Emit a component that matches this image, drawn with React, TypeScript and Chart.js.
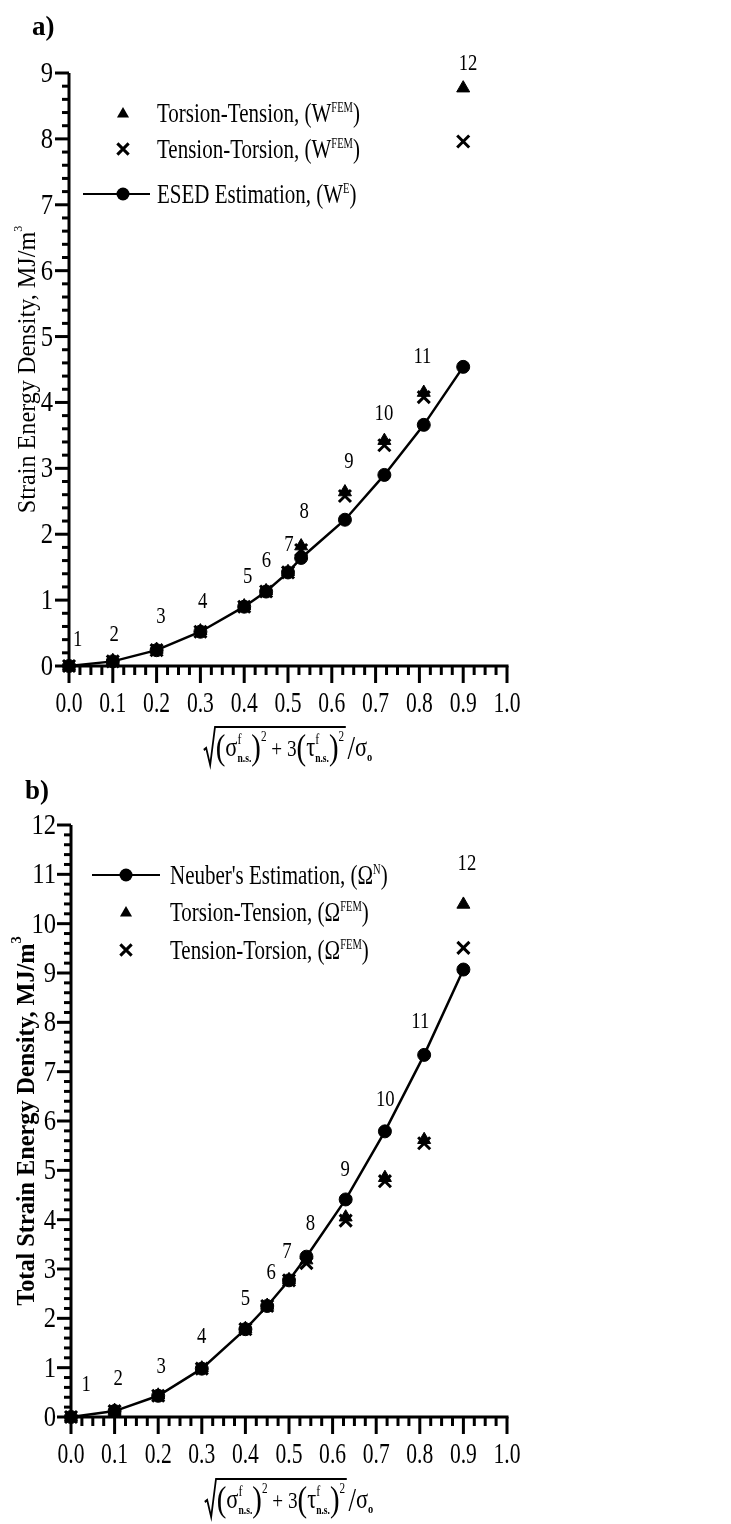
import React, { useEffect, useRef } from 'react';
import { Chart, registerables } from 'chart.js';

Chart.register(...registerables);

const FONT = "'Liberation Serif', 'Times New Roman', Times, serif";

// ---------------- shared axis data ----------------
const xTickLabels = ['0.0', '0.1', '0.2', '0.3', '0.4', '0.5', '0.6', '0.7', '0.8', '0.9', '1.0'];
const pointNumbers = ['1', '2', '3', '4', '5', '6', '7', '8', '9', '10', '11', '12'];

// ---------------- panel a) ----------------
const yTickLabelsA = ['0', '1', '2', '3', '4', '5', '6', '7', '8', '9'];
const xValuesA = [0, 0.1, 0.2, 0.3, 0.4, 0.45, 0.5, 0.53, 0.63, 0.72, 0.81, 0.9];
const esedA = [0, 0.07, 0.24, 0.52, 0.9, 1.13, 1.42, 1.64, 2.22, 2.9, 3.66, 4.54];
const torsionTensionA = [0, 0.08, 0.25, 0.53, 0.91, 1.14, 1.43, 1.82, 2.64, 3.42, 4.15, 8.77];
const tensionTorsionA = [0, 0.07, 0.24, 0.52, 0.9, 1.13, 1.42, 1.76, 2.58, 3.35, 4.08, 7.96];
// where the point numbers sit (data units)
const labelXA = [0.02, 0.103, 0.21, 0.305, 0.408, 0.451, 0.502, 0.537, 0.639, 0.719, 0.807, 0.911];
const labelYA = [0.42, 0.5, 0.77, 1.0, 1.38, 1.62, 1.87, 2.37, 3.13, 3.86, 4.72, 9.17];

// ---------------- panel b) ----------------
const yTickLabelsB = ['0', '1', '2', '3', '4', '5', '6', '7', '8', '9', '10', '11', '12'];
const xValuesB = [0, 0.1, 0.2, 0.3, 0.4, 0.45, 0.5, 0.54, 0.63, 0.72, 0.81, 0.9];
const neuberB = [0, 0.12, 0.43, 0.98, 1.78, 2.25, 2.77, 3.25, 4.41, 5.79, 7.34, 9.07];
const torsionTensionB = [0, 0.13, 0.44, 0.99, 1.79, 2.26, 2.78, 3.18, 4.05, 4.85, 5.62, 10.39];
const tensionTorsionB = [0, 0.12, 0.43, 0.98, 1.78, 2.25, 2.77, 3.12, 3.98, 4.78, 5.55, 9.51];
const labelXB = [0.035, 0.108, 0.207, 0.3, 0.4, 0.459, 0.495, 0.549, 0.629, 0.721, 0.801, 0.908];
const labelYB = [0.69, 0.81, 1.05, 1.66, 2.43, 2.95, 3.39, 3.96, 5.05, 6.47, 8.05, 11.26];

// ---------------- text helpers ----------------
type Run = { t: string; size: number; bold?: boolean; dy?: number; below?: Run };

const fnt = (size: number, bold?: boolean) => `${bold ? 'bold ' : ''}${size}px ${FONT}`;

function runAdvance(ctx: CanvasRenderingContext2D, r: Run) {
  ctx.font = fnt(r.size, r.bold);
  let w = ctx.measureText(r.t).width;
  if (r.below) {
    ctx.font = fnt(r.below.size, r.below.bold);
    w = Math.max(w, ctx.measureText(r.below.t).width);
  }
  return w;
}
function runsWidth(ctx: CanvasRenderingContext2D, runs: Run[]) {
  return runs.reduce((s, r) => s + runAdvance(ctx, r), 0);
}
function paintRuns(ctx: CanvasRenderingContext2D, runs: Run[], startX: number) {
  let cx = startX;
  for (const r of runs) {
    const adv = runAdvance(ctx, r);
    ctx.font = fnt(r.size, r.bold);
    ctx.fillText(r.t, cx, r.dy || 0);
    if (r.below) {
      ctx.font = fnt(r.below.size, r.below.bold);
      ctx.fillText(r.below.t, cx, r.below.dy || 0);
    }
    cx += adv;
  }
  return cx;
}
function drawRuns(
  ctx: CanvasRenderingContext2D,
  runs: Run[],
  x: number,
  y: number,
  sx: number,
  align: 'left' | 'center' | 'right',
  rotate = 0
) {
  ctx.save();
  ctx.translate(x, y);
  if (rotate) ctx.rotate(rotate);
  ctx.scale(sx, 1);
  ctx.textAlign = 'left';
  ctx.textBaseline = 'alphabetic';
  ctx.fillStyle = '#000';
  const total = runsWidth(ctx, runs);
  const start = align === 'left' ? 0 : align === 'center' ? -total / 2 : -total;
  paintRuns(ctx, runs, start);
  ctx.restore();
}

function drawFormula(ctx: CanvasRenderingContext2D, cx: number, baseline: number) {
  const sx = 0.8;
  const stack = (): Run => ({ t: 'f', size: 15, dy: -12, below: { t: 'n.s.', size: 12, bold: true, dy: 6 } });
  const inner: Run[] = [
    { t: '(', size: 36, dy: 3 },
    { t: 'σ', size: 28 },
    stack(),
    { t: ')', size: 36, dy: 3 },
    { t: '2', size: 14, dy: -15 },
    { t: ' + 3', size: 24 },
    { t: '(', size: 36, dy: 3 },
    { t: 'τ', size: 28 },
    stack(),
    { t: ')', size: 36, dy: 3 },
    { t: '2', size: 14, dy: -15 },
  ];
  const tail: Run[] = [
    { t: '/', size: 34, dy: 3 },
    { t: 'σ', size: 28 },
    { t: 'o', size: 13, bold: true, dy: 5 },
  ];
  ctx.save();
  ctx.translate(cx, baseline);
  ctx.scale(sx, 1);
  ctx.fillStyle = '#000';
  ctx.strokeStyle = '#000';
  ctx.textAlign = 'left';
  ctx.textBaseline = 'alphabetic';
  const radW = 15;
  const innerW = runsWidth(ctx, inner);
  const tailW = runsWidth(ctx, tail);
  const total = radW + innerW + 4 + tailW;
  const x0 = -total / 2;
  // radical sign and vinculum
  ctx.lineWidth = 2.2;
  ctx.beginPath();
  ctx.moveTo(x0, -6);
  ctx.lineTo(x0 + 3, -8);
  ctx.lineTo(x0 + 8, 9);
  ctx.lineTo(x0 + 14, -29);
  ctx.lineTo(x0 + radW + innerW + 2, -29);
  ctx.stroke();
  paintRuns(ctx, inner, x0 + radW);
  paintRuns(ctx, tail, x0 + radW + innerW + 4);
  ctx.restore();
}

// ---------------- marker helpers (legend) ----------------
function drawTriangle(ctx: CanvasRenderingContext2D, x: number, y: number, r: number) {
  ctx.beginPath();
  for (let i = 0; i < 3; i++) {
    const a = (i * 2 * Math.PI) / 3;
    const px = x + Math.sin(a) * r;
    const py = y - Math.cos(a) * r;
    if (i === 0) ctx.moveTo(px, py);
    else ctx.lineTo(px, py);
  }
  ctx.closePath();
  ctx.fill();
}
function drawCross(ctx: CanvasRenderingContext2D, x: number, y: number, r: number) {
  const d = r * Math.SQRT1_2;
  ctx.lineWidth = 3;
  ctx.beginPath();
  ctx.moveTo(x - d, y - d);
  ctx.lineTo(x + d, y + d);
  ctx.moveTo(x + d, y - d);
  ctx.lineTo(x - d, y + d);
  ctx.stroke();
}
function drawLineCircle(ctx: CanvasRenderingContext2D, x1: number, x2: number, cx: number, y: number, r: number) {
  ctx.lineWidth = 2;
  ctx.beginPath();
  ctx.moveTo(x1, y);
  ctx.lineTo(x2, y);
  ctx.stroke();
  ctx.beginPath();
  ctx.arc(cx, y, r, 0, Math.PI * 2);
  ctx.fill();
}

// ---------------- panel description ----------------
type LegendItem = { kind: 'tri' | 'cross' | 'line'; y: number; runs: Run[] };
type Panel = {
  tag: string;
  tagX: number;
  tagY: number;
  canvasH: number;
  yMax: number;
  yAxisW: number;
  padTop: number;
  padBottom: number;
  yTickLabels: string[];
  yTickRight: number;
  xValues: number[];
  main: number[];
  mainLabel: string;
  tt: number[];
  tTor: number[];
  labelX: number[];
  labelY: number[];
  yTitle: Run[];
  yTitleX: number;
  yTitleSx: number;
  legend: LegendItem[];
  legendMarkerX: number;
  legendLine: [number, number];
  legendTextX: number;
  formulaY: number;
};

const sup = (t: string): Run => ({ t, size: 14, dy: -10 });

const panelA: Panel = {
  tag: 'a)',
  tagX: 32,
  tagY: 35,
  canvasH: 780,
  yMax: 9,
  yAxisW: 69,
  padTop: 73,
  padBottom: 780 - 666 - 64,
  yTickLabels: yTickLabelsA,
  yTickRight: 53,
  xValues: xValuesA,
  main: esedA,
  mainLabel: 'ESED Estimation',
  tt: torsionTensionA,
  tTor: tensionTorsionA,
  labelX: labelXA,
  labelY: labelYA,
  yTitle: [{ t: 'Strain Energy Density, MJ/m', size: 26 }, { t: '3', size: 13, dy: -13 }],
  yTitleX: 35,
  yTitleSx: 0.93,
  legend: [
    { kind: 'tri', y: 113, runs: [{ t: 'Torsion-Tension, (W', size: 28 }, sup('FEM'), { t: ')', size: 28 }] },
    { kind: 'cross', y: 149, runs: [{ t: 'Tension-Torsion, (W', size: 28 }, sup('FEM'), { t: ')', size: 28 }] },
    { kind: 'line', y: 194, runs: [{ t: 'ESED Estimation, (W', size: 28 }, sup('E'), { t: ')', size: 28 }] },
  ],
  legendMarkerX: 123,
  legendLine: [83, 150],
  legendTextX: 157,
  formulaY: 756,
};

const panelB: Panel = {
  tag: 'b)',
  tagX: 25,
  tagY: 19,
  canvasH: 744,
  yMax: 12,
  yAxisW: 71,
  padTop: 45,
  padBottom: 744 - 637 - 64,
  yTickLabels: yTickLabelsB,
  yTickRight: 56,
  xValues: xValuesB,
  main: neuberB,
  mainLabel: "Neuber's Estimation",
  tt: torsionTensionB,
  tTor: tensionTorsionB,
  labelX: labelXB,
  labelY: labelYB,
  yTitle: [{ t: 'Total Strain Energy Density, MJ/m', size: 25, bold: true }, { t: '3', size: 15, bold: true, dy: -13 }],
  yTitleX: 34,
  yTitleSx: 0.97,
  legend: [
    { kind: 'line', y: 95, runs: [{ t: "Neuber's Estimation, (Ω", size: 28 }, sup('N'), { t: ')', size: 28 }] },
    { kind: 'tri', y: 132, runs: [{ t: 'Torsion-Tension, (Ω', size: 28 }, sup('FEM'), { t: ')', size: 28 }] },
    { kind: 'cross', y: 170, runs: [{ t: 'Tension-Torsion, (Ω', size: 28 }, sup('FEM'), { t: ')', size: 28 }] },
  ],
  legendMarkerX: 126,
  legendLine: [92, 160],
  legendTextX: 170,
  formulaY: 728,
};

const near = (v: number, step: number) => Math.abs(v / step - Math.round(v / step)) < 1e-6;

function makeChart(canvas: HTMLCanvasElement, p: Panel) {
  const pts = (ys: number[]) => p.xValues.map((x, i) => ({ x, y: ys[i] }));

  const axesPlugin = {
    id: 'axesPlugin',
    beforeDatasetsDraw(chart: any) {
      const ctx: CanvasRenderingContext2D = chart.ctx;
      const { left, right, top, bottom } = chart.chartArea;
      const xs = chart.scales.x;
      const ys = chart.scales.y;
      ctx.save();
      ctx.strokeStyle = '#000';
      ctx.lineWidth = 3;
      ctx.lineCap = 'butt';
      ctx.beginPath();
      ctx.moveTo(left, top);
      ctx.lineTo(left, bottom + 1.5);
      ctx.moveTo(left - 1.5, bottom);
      ctx.lineTo(right + 1.5, bottom);
      ctx.stroke();
      for (const t of xs.ticks) {
        const major = near(t.value, 0.1);
        const px = xs.getPixelForValue(t.value);
        ctx.beginPath();
        ctx.moveTo(px, bottom);
        ctx.lineTo(px, bottom + (major ? 17 : 9));
        ctx.stroke();
      }
      for (const t of ys.ticks) {
        const major = near(t.value, 1);
        const py = ys.getPixelForValue(t.value);
        ctx.beginPath();
        ctx.moveTo(left, py);
        ctx.lineTo(left - (major ? 14 : 7), py);
        ctx.stroke();
      }
      ctx.restore();
    },
    afterDraw(chart: any) {
      const ctx: CanvasRenderingContext2D = chart.ctx;
      const { top, bottom } = chart.chartArea;
      const xs = chart.scales.x;
      const ys = chart.scales.y;
      ctx.save();
      ctx.fillStyle = '#000';
      ctx.strokeStyle = '#000';
      // tick labels
      for (const t of xs.ticks) {
        if (!near(t.value, 0.1)) continue;
        const lbl = xTickLabels[Math.round(t.value * 10)];
        drawRuns(ctx, [{ t: lbl, size: 30 }], xs.getPixelForValue(t.value), bottom + 46, 0.72, 'center');
      }
      for (const t of ys.ticks) {
        if (!near(t.value, 1)) continue;
        const lbl = p.yTickLabels[Math.round(t.value)];
        drawRuns(ctx, [{ t: lbl, size: 30 }], p.yTickRight, ys.getPixelForValue(t.value) + 9, 0.82, 'right');
      }
      // y title
      drawRuns(ctx, p.yTitle, p.yTitleX, (top + bottom) / 2, p.yTitleSx, 'center', -Math.PI / 2);
      // panel tag
      drawRuns(ctx, [{ t: p.tag, size: 27, bold: true }], p.tagX, p.tagY, 1, 'left');
      // point numbers
      p.labelX.forEach((lx, i) => {
        drawRuns(ctx, [{ t: pointNumbers[i], size: 24 }], xs.getPixelForValue(lx), ys.getPixelForValue(p.labelY[i]) + 8, 0.78, 'center');
      });
      // legend
      for (const item of p.legend) {
        if (item.kind === 'tri') drawTriangle(ctx, p.legendMarkerX, item.y + 1, 7);
        else if (item.kind === 'cross') drawCross(ctx, p.legendMarkerX, item.y, 8);
        else drawLineCircle(ctx, p.legendLine[0], p.legendLine[1], p.legendMarkerX, item.y, 6.5);
        drawRuns(ctx, item.runs, p.legendTextX, item.y + 9, 0.75, 'left');
      }
      // x title
      drawFormula(ctx, (chart.chartArea.left + chart.chartArea.right) / 2, p.formulaY);
      ctx.restore();
    },
  };

  return new Chart(canvas, {
    type: 'scatter',
    data: {
      datasets: [
        {
          label: p.mainLabel,
          data: pts(p.main),
          showLine: true,
          borderColor: '#000',
          borderWidth: 2.5,
          tension: 0,
          pointStyle: 'circle',
          pointRadius: 6.5,
          pointBackgroundColor: '#000',
          pointBorderColor: '#000',
          pointBorderWidth: 1,
          clip: false,
        },
        {
          label: 'Torsion-Tension',
          data: pts(p.tt),
          showLine: false,
          pointStyle: 'triangle',
          pointRadius: 7.5,
          pointBackgroundColor: '#000',
          pointBorderColor: '#000',
          pointBorderWidth: 1,
          clip: false,
        },
        {
          label: 'Tension-Torsion',
          data: pts(p.tTor),
          showLine: false,
          pointStyle: 'crossRot',
          pointRadius: 8.5,
          pointBackgroundColor: '#000',
          pointBorderColor: '#000',
          pointBorderWidth: 3,
          clip: false,
        },
      ],
    } as any,
    options: {
      responsive: false,
      animation: false,
      devicePixelRatio: 1,
      events: [],
      layout: { padding: { left: 0, right: 224, top: p.padTop, bottom: p.padBottom } },
      plugins: { legend: { display: false }, tooltip: { enabled: false }, title: { display: false } },
      scales: {
        x: {
          type: 'linear',
          min: 0,
          max: 1,
          ticks: { display: false, stepSize: 0.025, autoSkip: false },
          grid: { display: false },
          border: { display: false },
          afterFit: (s: any) => {
            s.height = 64;
          },
        },
        y: {
          type: 'linear',
          min: 0,
          max: p.yMax,
          ticks: { display: false, stepSize: 0.2, autoSkip: false },
          grid: { display: false },
          border: { display: false },
          afterFit: (s: any) => {
            s.width = p.yAxisW;
          },
        },
      },
    } as any,
    plugins: [axesPlugin],
  });
}

function Panel({ panel, top }: { panel: Panel; top: number }) {
  const ref = useRef<HTMLCanvasElement | null>(null);
  useEffect(() => {
    if (!ref.current) return;
    const chart = makeChart(ref.current, panel);
    return () => chart.destroy();
  }, [panel]);
  return (
    <canvas
      ref={ref}
      width={731}
      height={panel.canvasH}
      style={{ position: 'absolute', left: 0, top, width: 731, height: panel.canvasH, display: 'block' }}
    />
  );
}

export default function App() {
  return (
    <div style={{ position: 'absolute', left: 0, top: 0, width: 731, height: 1524, background: '#fff', overflow: 'hidden' }}>
      <Panel panel={panelA} top={0} />
      <Panel panel={panelB} top={780} />
    </div>
  );
}
